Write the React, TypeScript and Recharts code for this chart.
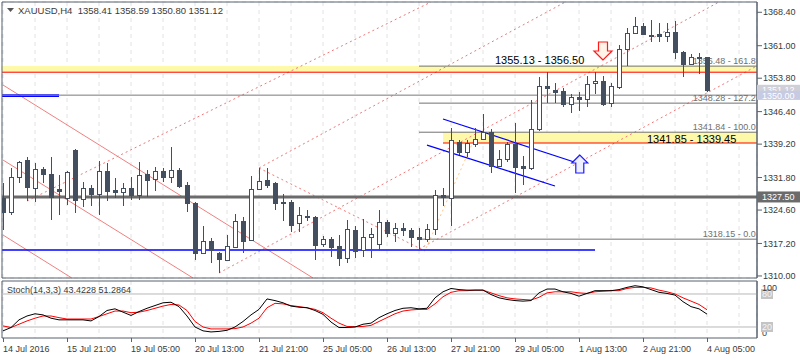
import React from 'react';
import {
  ComposedChart,
  LineChart,
  Line,
  Bar,
  XAxis,
  YAxis,
  CartesianGrid,
  ReferenceLine,
  ReferenceArea,
  ReferenceDot,
} from 'recharts';

const FONT = "'Liberation Sans', Arial, sans-serif";
const DARK = '#434f5e';
const BORDER = '#58626e';
const TEXT = '#3a3a3a';

// ---- candles (H4 XAUUSD) ----
const opens = [
  1327.27, 1324.17, 1331.92, 1335.69, 1329.49, 1333.69, 1332.59, 1329.26, 1327.27, 1337.9,
  1327.05, 1329.49, 1328.16, 1333.25, 1329.04, 1328.6, 1329.49, 1327.94, 1332.59, 1331.48,
  1333.25, 1331.92, 1333.47, 1330.15, 1326.16, 1315.09, 1317.74, 1315.09, 1313.54, 1316.41,
  1322.17, 1317.96, 1329.26, 1331.25, 1330.59, 1326.38, 1326.38, 1321.73, 1323.28, 1323.06,
  1317.08, 1318.19, 1316.64, 1313.98, 1320.18, 1315.75, 1318.63, 1317.08, 1321.95, 1319.52,
  1320.62, 1320.18, 1318.63, 1318.19, 1320.4, 1327.93, 1327.27, 1339.67, 1337.46, 1339.23,
  1340.33, 1341.89, 1334.36, 1335.91, 1339.23, 1334.36, 1333.91, 1342.55, 1352.07, 1351.19,
  1350.97, 1348.09, 1349.64, 1349.19, 1352.74, 1353.18, 1348.31, 1351.85, 1360.27, 1363.81,
  1365.36, 1363.37, 1363.59, 1363.15, 1364.03, 1359.6, 1356.95, 1358.2, 1358.41,
];
const highs = [
  1330.59, 1333.91, 1335.47, 1336.35, 1335.02, 1334.14, 1336.35, 1332.37, 1333.25, 1338.1,
  1330.82, 1330.15, 1335.47, 1335.02, 1331.7, 1330.59, 1331.92, 1335.24, 1333.47, 1334.14,
  1333.91, 1338.56, 1333.91, 1330.82, 1326.38, 1321.07, 1318.41, 1315.31, 1319.07, 1323.72,
  1323.06, 1332.14, 1333.91, 1333.91, 1330.82, 1328.16, 1326.83, 1325.28, 1324.61, 1323.28,
  1318.85, 1318.63, 1319.07, 1322.4, 1321.07, 1322.62, 1320.62, 1324.61, 1322.4, 1321.73,
  1321.73, 1320.62, 1320.62, 1321.51, 1329.04, 1329.49, 1342.77, 1340.11, 1340.11, 1342.77,
  1345.87, 1342.55, 1337.9, 1339.67, 1343.88, 1336.57, 1348.97, 1354.07, 1355.17, 1352.74,
  1351.63, 1350.3, 1350.74, 1354.29, 1355.17, 1354.29, 1352.74, 1361.15, 1364.92, 1367.36,
  1366.03, 1366.69, 1366.03, 1366.03, 1366.47, 1359.83, 1359.16, 1359.38, 1358.59,
];
const lows = [
  1320.18, 1323.51, 1330.59, 1326.61, 1326.39, 1330.59, 1322.4, 1323.51, 1325.72, 1323.95,
  1325.28, 1325.5, 1323.51, 1326.61, 1327.27, 1325.5, 1326.83, 1326.83, 1327.49, 1328.82,
  1330.82, 1330.59, 1329.49, 1324.17, 1313.54, 1314.86, 1312.87, 1310.66, 1313.31, 1316.19,
  1315.09, 1317.74, 1329.04, 1329.49, 1324.61, 1322.17, 1319.74, 1319.74, 1322.17, 1313.54,
  1316.41, 1314.2, 1312.21, 1312.87, 1313.98, 1314.2, 1313.98, 1315.53, 1318.63, 1317.52,
  1318.85, 1316.41, 1315.97, 1317.52, 1319.07, 1325.5, 1321.07, 1336.79, 1336.35, 1338.56,
  1340.11, 1332.8, 1334.14, 1335.24, 1328.38, 1330.15, 1333.47, 1342.11, 1348.31, 1348.31,
  1347.42, 1346.1, 1346.54, 1347.42, 1350.3, 1347.64, 1347.42, 1351.41, 1356.51, 1363.59,
  1363.37, 1361.82, 1361.82, 1361.82, 1358.05, 1354.07, 1356.73, 1354.73, 1350.8,
];
const closes = [
  1324.17, 1331.92, 1335.24, 1329.71, 1333.69, 1332.59, 1327.49, 1328.82, 1333.03, 1326.83,
  1329.49, 1328.16, 1333.25, 1328.82, 1328.6, 1329.49, 1327.94, 1332.37, 1331.26, 1333.25,
  1331.92, 1333.47, 1329.93, 1326.16, 1315.09, 1317.74, 1315.75, 1313.76, 1316.64, 1322.17,
  1317.74, 1329.26, 1331.03, 1330.15, 1326.16, 1326.16, 1321.29, 1323.51, 1323.17, 1316.86,
  1318.19, 1316.41, 1313.98, 1320.4, 1315.53, 1318.63, 1319.29, 1321.95, 1319.52, 1320.62,
  1320.18, 1318.63, 1318.19, 1320.4, 1327.93, 1327.49, 1340.11, 1337.46, 1339.45, 1340.33,
  1341.89, 1334.36, 1335.91, 1339.23, 1334.14, 1333.91, 1342.55, 1352.07, 1351.63, 1350.74,
  1348.09, 1349.64, 1349.19, 1352.52, 1353.18, 1348.09, 1352.07, 1360.27, 1363.81, 1365.36,
  1363.59, 1363.3, 1363.15, 1364.03, 1359.6, 1356.95, 1358.5, 1358.41, 1351.12,
];

// ---- Stochastic (14,3,3) ----
const stochK = [
  13, 19, 33, 40, 44, 42, 36, 33, 33, 33, 33, 31, 39, 50, 53, 47, 41, 48, 54, 59,
  64, 65, 57, 40, 20, 13, 11, 12, 14, 20, 30, 42, 52, 71, 68, 64, 58, 56, 55, 50,
  43, 29, 19, 19, 20, 25, 27, 37, 44, 50, 54, 55, 53, 54, 73, 84, 90, 88, 87, 87,
  87, 79, 73, 70, 68, 67, 68, 82, 89, 89, 84, 81, 76, 81, 86, 86, 86, 88, 92, 95,
  93, 88, 83, 81, 78, 66, 57, 53, 43.42,
];
const stochD = [
  22, 19, 25, 31, 36, 40, 40, 37, 34.5, 34.5, 34.5, 34.5, 39, 44, 49, 49, 46, 47, 50, 54,
  58, 61, 60, 50, 30, 20, 16.5, 16.5, 16.5, 17, 20, 27, 36, 55, 63, 62, 59, 57, 55, 52,
  46, 36, 27, 21, 20.5, 21, 23, 30, 37, 44, 49, 51, 52, 52, 62, 75, 83, 86, 86, 87,
  87, 82, 77, 73, 71, 70, 69, 74, 82, 84, 84, 84, 82, 81, 84, 85, 86, 86, 90, 92,
  92, 91, 87, 84, 80, 73, 67, 61, 51.29,
];

// ---- axes ----
const priceTicks = [1310.0, 1317.2, 1324.6, 1331.8, 1339.2, 1346.4, 1353.8, 1361.0, 1368.4];
const timeLabelIdx = [0, 8, 16, 24, 32, 40, 48, 56, 64, 72, 80, 88];
const timeLabels = [
  '14 Jul 2016', '15 Jul 21:00', '19 Jul 05:00', '20 Jul 13:00', '21 Jul 21:00', '25 Jul 05:00',
  '26 Jul 13:00', '27 Jul 21:00', '29 Jul 05:00', '1 Aug 13:00', '2 Aug 21:00', '4 Aug 05:00',
];
const stochTicks = [0, 20, 80, 100];

// ---- drawing objects (bar index, price) ----
const zone1 = [1355.13, 1356.5];
const zone2 = [1339.45, 1341.85];
const zone2Start = 55;
const level1327 = 1327.5;
const level1350 = 1350.05;
const blueShort = [1350.1, 1349.75];
const blueShortEnd = 7;
const blueSupport = 1315.75;
const blueSupportEnd = 74;
const fibStart = 52;
const fibPrices = [1356.48, 1348.28, 1341.84, 1318.15];
const fibRatios = ['161.8', '127.2', '100.0', '0.0'];
const dottedUp = [
  [3, 1326.6, 53.5, 1370.68],
  [32, 1333.91, 70.3, 1370.68],
  [27, 1310.66, 89.5, 1370.68],
  [52, 1315.97, 94.25, 1356.53],
];
const dottedDown = [[32, 1333.91, 52.75, 1315.53]];
const fibTrend = [52.9, 1316.2, 59.4, 1342.3];
const solidDown = [
  [0, 1352.29, 38.75, 1309.55],
  [0, 1335.68, 23.75, 1309.55],
  [0, 1319.07, 8.6, 1309.55],
];
const blueChannel = [
  [55, 1344.76, 71.4, 1335.24],
  [53, 1338.97, 69, 1329.93],
];
const downArrow = [75, 1357.83];
const upArrow = [72.1, 1336.79];
const zoneText1 = [61.5, 1356.95];
const zoneText2 = [80.5, 1339.45];
const lastPrice = 1351.12;
const bidPrice = 1350.0;

const X_MIN = -0.125;
const X_MAX = 94.25;
const Y_MIN = 1309.55;
const Y_MAX = 1370.68;

const candles = opens.map((o, i) => ({
  i,
  open: o,
  high: highs[i],
  low: lows[i],
  close: closes[i],
  range: [lows[i], highs[i]],
}));
const stoch = stochK.map((k, i) => ({ i, k, d: stochD[i] }));
const gridTicks: number[] = [];
for (let t = 0; t <= 92; t += 4) gridTicks.push(t);

function Candle(props: any) {
  const { x, y, width, height, payload } = props;
  if (!payload || x == null || y == null) return null;
  const xc = Math.round(x + width / 2) + 0.5;
  const top = Math.min(y, y + height);
  const bot = Math.max(y, y + height);
  const span = payload.high - payload.low || 1;
  const py = (v: number) => top + ((payload.high - v) / span) * (bot - top);
  const yo = py(payload.open);
  const yc = py(payload.close);
  const bull = payload.close >= payload.open;
  const bt = Math.round(Math.min(yo, yc)) + 0.5;
  let bb = Math.round(Math.max(yo, yc)) + 0.5;
  if (bb - bt < 1) bb = bt + 1;
  return (
    <g shapeRendering="crispEdges">
      <line x1={xc} x2={xc} y1={Math.round(top)} y2={Math.round(bot)} stroke={DARK} strokeWidth={1} />
      <rect x={xc - 2} y={bt} width={4} height={bb - bt} fill={bull ? '#ffffff' : DARK} stroke={DARK} strokeWidth={1} />
    </g>
  );
}

const textShape = (text: string, size: number, color: string, anchor: string, dy: number) => (p: any) => (
  <text x={p.cx} y={p.cy + dy} fontSize={size} fill={color} fontFamily={FONT} textAnchor={anchor as any}>
    {text}
  </text>
);

const axisBox = (text: string, fill: string, color: string, h: number, dy: number) => (p: any) => (
  <g>
    <rect x={p.cx} y={p.cy - h / 2 + dy} width={43} height={h} fill={fill} />
    <text x={p.cx + 5} y={p.cy + dy + 3.2} fontSize={9} fill={color} fontFamily={FONT}>
      {text}
    </text>
  </g>
);

const downArrowShape = (p: any) => {
  const { cx, cy } = p;
  const d = `M${cx} ${cy} L${cx - 9} ${cy - 9} L${cx - 4.5} ${cy - 9} L${cx - 4.5} ${cy - 18} L${cx + 4.5} ${cy - 18} L${cx + 4.5} ${cy - 9} L${cx + 9} ${cy - 9} Z`;
  return <path d={d} fill="#fff3e8" stroke="#ff1a1a" strokeWidth={1.2} />;
};
const upArrowShape = (p: any) => {
  const { cx, cy } = p;
  const d = `M${cx} ${cy} L${cx - 8} ${cy + 8} L${cx - 4} ${cy + 8} L${cx - 4} ${cy + 18} L${cx + 4} ${cy + 18} L${cx + 4} ${cy + 8} L${cx + 8} ${cy + 8} Z`;
  return <path d={d} fill="#eef0ff" stroke="#1a1aff" strokeWidth={1.2} />;
};

function TimeTick(props: any) {
  const { x, y, payload } = props;
  const k = timeLabelIdx.indexOf(payload.value);
  if (k < 0) return null;
  const xx = Math.round(x) + 0.5;
  return (
    <g>
      <line x1={xx} x2={xx} y1={y} y2={y + 4} stroke={BORDER} />
      <text x={x} y={y + 14} fontSize={9} fill={TEXT} fontFamily={FONT} textAnchor="start">
        {timeLabels[k]}
      </text>
    </g>
  );
}

function StochTick(props: any) {
  const { x, y, payload } = props;
  const v = payload.value;
  const lx = x;
  if (v === 100)
    return (
      <text x={lx} y={y + 8} fontSize={9} fill={TEXT} fontFamily={FONT}>100</text>
    );
  if (v === 0)
    return (
      <text x={lx} y={y - 2} fontSize={9} fill={TEXT} fontFamily={FONT}>0</text>
    );
  return (
    <g>
      <rect x={lx - 1} y={y - 5} width={12} height={10} fill="#c4c4c4" />
      <text x={lx} y={y + 3.2} fontSize={9} fill="#f4f4f4" fontFamily={FONT}>{v}</text>
    </g>
  );
}

const MARGIN = { top: 2, right: 0, bottom: 2, left: 2 };

export default function App() {
  return (
    <div style={{ position: 'absolute', left: 0, top: 0, width: 800, height: 360, background: '#fff', overflow: 'hidden', fontFamily: FONT }}>
      {/* drawing objects layer (behind the candles) */}
      <div style={{ position: 'absolute', left: 0, top: 0 }}>
        <ComposedChart width={800} height={280} data={candles} margin={MARGIN}>
          <CartesianGrid stroke="#e2e2e2" strokeDasharray="4 4" />
          <XAxis dataKey="i" type="number" domain={[X_MIN, X_MAX]} allowDataOverflow ticks={gridTicks} interval={0} hide />
          <YAxis orientation="right" width={43} type="number" domain={[Y_MIN, Y_MAX]} allowDataOverflow ticks={priceTicks} interval={0} tick={false} tickLine={false} axisLine={false} />
          <ReferenceArea x1={X_MIN} x2={X_MAX} y1={zone1[0]} y2={zone1[1]} fill="#fdf9a8" fillOpacity={1} stroke="none" ifOverflow="visible" />
          <ReferenceArea x1={zone2Start} x2={X_MAX} y1={zone2[0]} y2={zone2[1]} fill="#fdf9a8" fillOpacity={1} stroke="none" ifOverflow="visible" />

          {solidDown.map((s, k) => (
            <ReferenceLine key={'sd' + k} segment={[{ x: s[0], y: s[1] }, { x: s[2], y: s[3] }]} stroke="#f08080" strokeWidth={1} ifOverflow="visible" />
          ))}
          {dottedUp.map((s, k) => (
            <ReferenceLine key={'du' + k} segment={[{ x: s[0], y: s[1] }, { x: s[2], y: s[3] }]} stroke="#ee7878" strokeWidth={1} strokeDasharray="2 3" ifOverflow="visible" />
          ))}
          {dottedDown.map((s, k) => (
            <ReferenceLine key={'dd' + k} segment={[{ x: s[0], y: s[1] }, { x: s[2], y: s[3] }]} stroke="#ee7878" strokeWidth={1} strokeDasharray="2 3" ifOverflow="visible" />
          ))}
          <ReferenceLine segment={[{ x: fibTrend[0], y: fibTrend[1] }, { x: fibTrend[2], y: fibTrend[3] }]} stroke="#ffc88a" strokeWidth={1} strokeDasharray="2 3" ifOverflow="visible" />

          <ReferenceLine y={level1350} stroke="#7a7a7a" strokeWidth={1} ifOverflow="visible" />
          {blueShort.map((p, k) => (
            <ReferenceLine key={'bs' + k} segment={[{ x: X_MIN, y: p }, { x: blueShortEnd, y: p }]} stroke="#0000ff" strokeWidth={1} ifOverflow="visible" />
          ))}
          <ReferenceLine y={level1327} stroke="#6b6b6b" strokeWidth={3} ifOverflow="visible" />
          <ReferenceLine y={zone1[0]} stroke="#ff0000" strokeWidth={1} ifOverflow="visible" />
          <ReferenceLine segment={[{ x: zone2Start, y: zone2[0] }, { x: X_MAX, y: zone2[0] }]} stroke="#ff0000" strokeWidth={1} ifOverflow="visible" />
          {fibPrices.map((p, k) => (
            <ReferenceLine key={'fb' + k} segment={[{ x: fibStart, y: p }, { x: X_MAX, y: p }]} stroke="#727272" strokeWidth={1} ifOverflow="visible" />
          ))}
          <ReferenceLine segment={[{ x: X_MIN, y: blueSupport }, { x: blueSupportEnd, y: blueSupport }]} stroke="#0000ff" strokeWidth={1.3} ifOverflow="visible" />
          {blueChannel.map((s, k) => (
            <ReferenceLine key={'bc' + k} segment={[{ x: s[0], y: s[1] }, { x: s[2], y: s[3] }]} stroke="#0000ff" strokeWidth={1.2} ifOverflow="visible" />
          ))}
          {fibPrices.map((p, k) => (
            <ReferenceDot key={'fl' + k} x={94.1} y={p} r={0} ifOverflow="visible" shape={textShape(`${p.toFixed(2)} - ${fibRatios[k]}`, 9, '#707070', 'end', -2.5)} />
          ))}
          <ReferenceDot x={zoneText1[0]} y={zoneText1[1]} r={0} ifOverflow="visible" shape={textShape(`${zone1[0].toFixed(2)} - ${zone1[1].toFixed(2)}`, 11, '#000000', 'start', 0)} />
          <ReferenceDot x={zoneText2[0]} y={zoneText2[1]} r={0} ifOverflow="visible" shape={textShape(`${zone2[1].toFixed(2)} - ${zone2[0].toFixed(2)}`, 11, '#000000', 'start', 0)} />
        </ComposedChart>
      </div>

      {/* candles layer */}
      <div style={{ position: 'absolute', left: 0, top: 0 }}>
        <ComposedChart width={800} height={280} data={candles} margin={MARGIN}>
          <XAxis dataKey="i" type="number" domain={[X_MIN, X_MAX]} allowDataOverflow ticks={gridTicks} interval={0} hide />
          <YAxis
            orientation="right"
            width={43}
            type="number"
            domain={[Y_MIN, Y_MAX]}
            allowDataOverflow
            ticks={priceTicks}
            interval={0}
            tickFormatter={(v: number) => v.toFixed(2)}
            tick={{ fontSize: 9, fill: TEXT, fontFamily: FONT }}
            tickSize={5}
            tickMargin={1}
            axisLine={{ stroke: BORDER }}
            tickLine={{ stroke: BORDER }}
          />
          <Bar dataKey="range" barSize={6} isAnimationActive={false} shape={Candle} />
          <ReferenceDot x={downArrow[0]} y={downArrow[1]} r={0} ifOverflow="visible" shape={downArrowShape} />
          <ReferenceDot x={upArrow[0]} y={upArrow[1]} r={0} ifOverflow="visible" shape={upArrowShape} />
          <ReferenceDot x={X_MAX} y={level1327} r={0} ifOverflow="visible" shape={axisBox(level1327.toFixed(2), '#6b6b6b', '#ffffff', 11, 0)} />
          <ReferenceDot x={X_MAX} y={lastPrice} r={0} ifOverflow="visible" shape={axisBox(lastPrice.toFixed(2), '#cfcfd8', '#ffffff', 10, -0.5)} />
          <ReferenceDot x={X_MAX} y={bidPrice} r={0} ifOverflow="visible" shape={axisBox(bidPrice.toFixed(2), '#c6cae2', '#ffffff', 9, 0)} />
          <ReferenceArea x1={X_MIN} x2={X_MAX} y1={Y_MIN} y2={Y_MAX} fill="none" stroke={BORDER} strokeWidth={1} ifOverflow="visible" />
        </ComposedChart>
      </div>

      <div style={{ position: 'absolute', left: 0, top: 279 }}>
        <LineChart width={800} height={81} data={stoch} margin={{ top: 2, right: 0, bottom: 0, left: 2 }}>
          <CartesianGrid stroke="#e2e2e2" strokeDasharray="4 4" horizontal={false} />
          <XAxis
            dataKey="i"
            type="number"
            domain={[X_MIN, X_MAX]}
            allowDataOverflow
            ticks={gridTicks}
            interval={0}
            height={22}
            axisLine={false}
            tickLine={false}
            tickSize={0}
            tickMargin={0}
            tick={TimeTick}
          />
          <YAxis
            orientation="right"
            width={43}
            type="number"
            domain={[0, 103.6]}
            allowDataOverflow
            ticks={stochTicks}
            interval={0}
            axisLine={{ stroke: BORDER }}
            tickLine={false}
            tickSize={0}
            tickMargin={5}
            tick={StochTick}
          />
          <ReferenceLine y={80} stroke="#b8b8b8" strokeWidth={1} />
          <ReferenceLine y={20} stroke="#b8b8b8" strokeWidth={1} />
          <Line dataKey="d" stroke="#ff0000" strokeWidth={1} dot={false} isAnimationActive={false} type="linear" />
          <Line dataKey="k" stroke="#000000" strokeWidth={1} dot={false} isAnimationActive={false} type="linear" />
          <ReferenceArea x1={X_MIN} x2={X_MAX} y1={0} y2={103.6} fill="none" stroke={BORDER} strokeWidth={1} ifOverflow="visible" />
        </LineChart>
      </div>

      <div style={{ position: 'absolute', left: 7, top: 5, fontSize: 9.5, color: TEXT, whiteSpace: 'pre', lineHeight: '11px', display: 'flex', alignItems: 'center' }}>
        <svg width={8} height={6} style={{ marginRight: 3 }}>
          <polygon points="0,0 7,0 3.5,4" fill="#555" />
        </svg>
        <span>XAUUSD,H4  1358.41 1358.59 1350.80 1351.12</span>
      </div>
      <div style={{ position: 'absolute', left: 7, top: 285, fontSize: 9, color: TEXT, whiteSpace: 'pre', lineHeight: '11px' }}>
        Stoch(14,3,3) 43.4228 51.2864
      </div>
    </div>
  );
}
